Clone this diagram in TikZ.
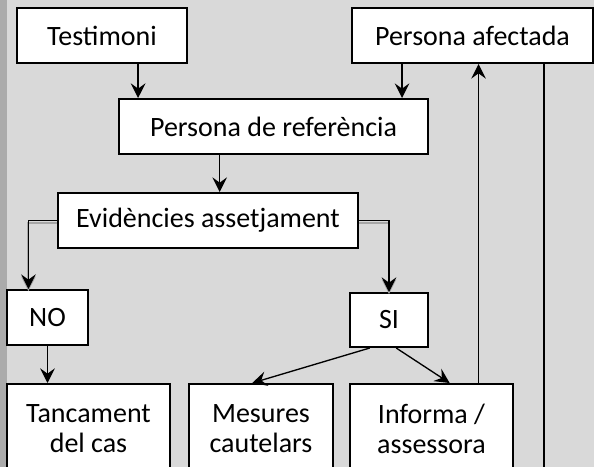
\documentclass[tikz,border=0pt]{standalone}
\usepackage{fontspec}
\setmainfont{Carlito}
\usetikzlibrary{arrows.meta,calc,positioning}
\tikzset{
  >={Stealth[length=11pt,width=11pt,inset=4pt]}, % arrow heads of the links
  x=0.75pt, y=-0.75pt, % one unit is one pixel of the sketch, y runs down
  every node/.style={font=\fontsize{21}{22.5}\selectfont}, % text size for all boxes
}
\definecolor{sheet}{HTML}{D9D9D9}
\definecolor{edge}{HTML}{ABABAB}

\begin{document}
\begin{tikzpicture}[box/.style={rectangle, draw, line width=1.5pt, fill=white, minimum height=41.25pt, inner sep=0pt, align=center},
    tall/.style={minimum height=67.5pt, anchor=north},
    link/.style={->, line width=1pt},
    shadowed/.style={preaction={draw=gray!70, line width=1.6pt, transform canvas={yshift=-1.6pt}}}]
    \clip (0,0) rectangle (594,467);
    \fill[sheet] (0,0) rectangle (594,467);
    \fill[edge] (0,0) rectangle (7,467);

    \node[box, minimum width=127.5pt] (test) at (102,35.5) {Testimoni};
    \node[box, minimum width=180.75pt] (aff) at (472.5,35.5) {Persona afectada};
    \node[box, minimum width=231.75pt] (ref) at (273.5,126.5) {Persona de referència};
    \node[box, minimum width=225pt] (evid) at (208,220.5) {Evidències assetjament};
    \node[box, minimum width=60.75pt] (no) at (47.5,317.5) {NO};
    \node[box, minimum width=58.5pt, minimum height=40.5pt] (si) at (389,320) {SI};
    \node[box, tall, minimum width=122.25pt] (tanc) at (88.5,383) {Tancament\\del cas};
    \node[box, tall, minimum width=108pt] (mes) at (261,383) {Mesures\\cautelars};
    \node[box, tall, minimum width=122.25pt] (inf) at (431.5,383) {Informa /\\assessora};
    \coordinate (out) at (544,470);

    \draw[link] ($(test.south west)!0.71!(test.south east)$) coordinate (t1) -- (t1 |- ref.north);
    \draw[link] ($(aff.south west)!0.21!(aff.south east)$) coordinate (a1) -- (a1 |- ref.north);
    \draw[link] ($(ref.south west)!0.327!(ref.south east)$) coordinate (r1) -- (r1 |- evid.north);
    \draw[link, shadowed] (evid.west) -| ($(no.north west)!0.27!(no.north east)$);
    \draw[link, shadowed] (evid.east) -| (si.north);
    \draw[link] (no.south) -- (no.south |- tanc.north);
    \draw[link] ($(si.south west)!0.26!(si.south east)$) -- ($(mes.north west)!0.44!(mes.north east)$);
    \draw[link] ($(si.south west)!0.59!(si.south east)$) -- ($(inf.north west)!0.61!(inf.north east)$);
    \draw[link] ($(inf.north west)!0.785!(inf.north east)$) coordinate (i1) -- (i1 |- aff.south);
    \draw[line width=1pt] (aff.south -| out) -- (out);
\end{tikzpicture}
\end{document}
